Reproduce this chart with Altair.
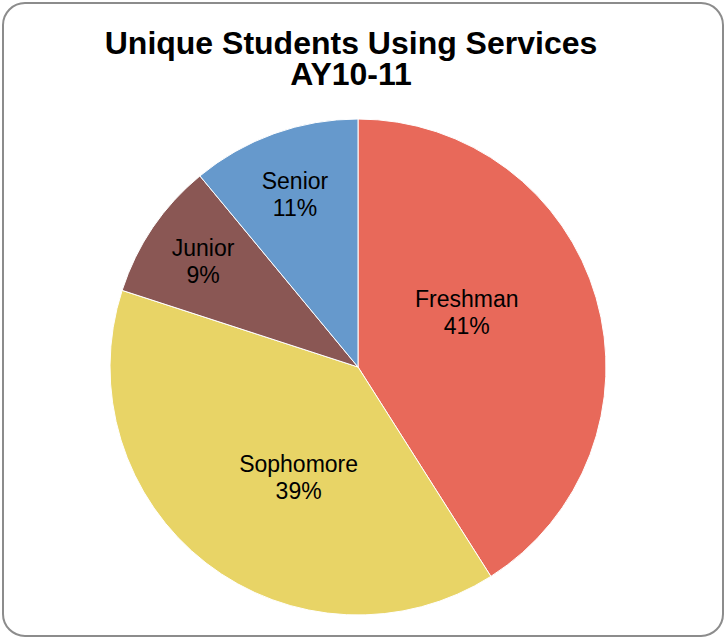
import altair as alt
import pandas as pd

categories = ["Freshman", "Sophomore", "Junior", "Senior"]
percents = [41, 39, 9, 11]
colors = ["#E8695A", "#E8D466", "#8A5754", "#6699CC"]

df = pd.DataFrame({
    "category": categories,
    "pct": percents,
    "idx": list(range(len(categories))),
})

FONT = "Liberation Sans"
CX, CY, R = 355, 364, 248

theta = alt.Theta("pct:Q", stack=True)
color = alt.Color("category:N", scale=alt.Scale(domain=categories, range=colors), legend=None)
order = alt.Order("idx:Q", sort="ascending")

pie = alt.Chart(df).mark_arc(outerRadius=R, stroke="white", strokeWidth=1).encode(
    theta=theta, color=color, order=order,
    x=alt.value(CX), y=alt.value(CY),
)

# label placement: mid-angle of each slice, pulled slightly back for wide
# slices and further out for narrow ones (mimics the "best fit" layout)
labels = alt.Chart(df).transform_window(
    cum="sum(pct)", sort=[alt.SortField("idx", order="ascending")],
    frame=[None, 0],
).transform_joinaggregate(
    total="sum(pct)",
).transform_calculate(
    mid="2 * PI * (datum.cum - datum.pct / 2) / datum.total - PI / 180 * 0.33 * max(0, datum.pct - 10)",
    label="[datum.category, datum.pct + '%']",
    lr=f"{R} * (0.83 - 0.0083 * datum.pct)",
).mark_text(font=FONT, fontSize=23, lineHeight=27, color="black",
            align="center", baseline="middle", dy=-13).encode(
    theta=alt.Theta("mid:Q", scale=None, stack=None),
    radius=alt.Radius("lr:Q", scale=None),
    text="label:N",
    x=alt.value(CX), y=alt.value(CY),
)

chart = alt.layer(pie, labels).properties(
    width=720, height=633,
    autosize=alt.AutoSizeParams(type="none"),
    padding=3,
    view=alt.ViewBackground(stroke="#8C8C8C", strokeWidth=2, cornerRadius=22, fill="white"),
    title=alt.TitleParams(
        text=["Unique Students Using Services", "AY10-11"],
        font=FONT, fontSize=32, fontWeight="bold", color="black",
        anchor="middle", lineHeight=31, offset=-89, dx=-12,
    ),
).configure(background="white")

chart.save("out.html", embed_options={"renderer": "svg", "actions": False})
